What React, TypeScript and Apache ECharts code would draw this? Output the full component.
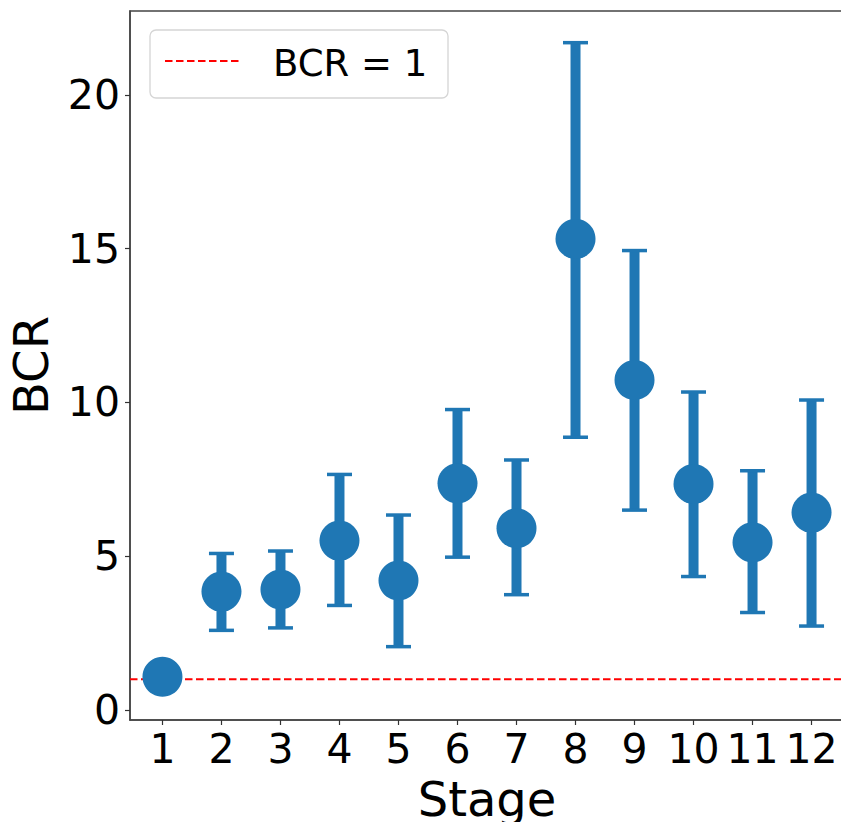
import React, { useEffect, useRef } from "react";
import * as echarts from "echarts";

const stages = [1, 2, 3, 4, 5, 6, 7, 8, 9, 10, 11, 12];
const bcr = [1.08, 3.85, 3.92, 5.51, 4.21, 7.37, 5.91, 15.32, 10.73, 7.35, 5.45, 6.42];
const lower = [1.08, 2.59, 2.67, 3.4, 2.06, 4.97, 3.75, 8.87, 6.5, 4.34, 3.17, 2.73];
const upper = [1.08, 5.09, 5.17, 7.66, 6.34, 9.77, 8.13, 21.7, 14.94, 10.34, 7.78, 10.08];
const yTicks = [0, 5, 10, 15, 20];
const refValue = 1;
const legendLabel = "BCR = 1";

const BLUE = "#1f77b4";
const FONT = "DejaVu Sans";

export default function App() {
  const ref = useRef<HTMLDivElement>(null);
  useEffect(() => {
    if (!ref.current) return;
    const chart = echarts.init(ref.current, null, { renderer: "svg" });
    const xMin = 0.45;
    const xMax = 12.55;
    chart.setOption({
      animation: false,
      grid: {
        left: 130,
        top: 11,
        right: -3,
        bottom: 102,
        containLabel: false,
        outerBoundsMode: "none",
        show: true,
        borderColor: "#444",
        borderWidth: 1.5,
        backgroundColor: "transparent",
      },
      xAxis: {
        type: "value",
        min: xMin,
        max: xMax,
        name: "Stage",
        nameLocation: "middle",
        nameGap: 55,
        nameTextStyle: { fontSize: 48, fontFamily: FONT, color: "#000" },
        splitLine: { show: false },
        axisLine: { show: true, onZero: false, lineStyle: { color: "#444", width: 1.5 } },
        axisTick: {
          show: true,
          length: 5,
          lineStyle: { color: "#333", width: 1.2 },
          customValues: stages,
        },
        axisLabel: {
          customValues: stages,
          fontSize: 41,
          fontFamily: FONT,
          color: "#000",
          margin: 8,
        },
      },
      yAxis: {
        type: "value",
        min: -0.325,
        max: 22.73,
        name: "BCR",
        nameLocation: "middle",
        nameGap: 75,
        nameTextStyle: { fontSize: 48, fontFamily: FONT, color: "#000" },
        splitLine: { show: false },
        axisLine: { show: true, onZero: false, lineStyle: { color: "#444", width: 1.5 } },
        axisTick: {
          show: true,
          length: 5,
          lineStyle: { color: "#333", width: 1.2 },
          customValues: yTicks,
        },
        axisLabel: {
          customValues: yTicks,
          fontSize: 41,
          fontFamily: FONT,
          color: "#000",
          margin: 10,
        },
      },
      series: [
        {
          type: "line",
          data: [
            [xMin, refValue],
            [xMax, refValue],
          ],
          symbol: "none",
          lineStyle: { color: "#ff0000", width: 2, type: [7.5, 3.5] },
          z: 1,
          silent: true,
        },
        {
          type: "custom",
          data: stages.map((s, i) => [s, lower[i], upper[i]]),
          encode: { x: 0, y: [1, 2] },
          z: 2,
          renderItem: (params: any, api: any) => {
            const x = api.value(0);
            const lo = api.value(1);
            const hi = api.value(2);
            if (lo === hi) return { type: "group", children: [] };
            const pLo = api.coord([x, lo]);
            const pHi = api.coord([x, hi]);
            const capHalf = 12.5;
            const style = { stroke: BLUE, lineWidth: 10, fill: null };
            const capStyle = { stroke: BLUE, lineWidth: 3.5, fill: null };
            return {
              type: "group",
              children: [
                {
                  type: "line",
                  shape: { x1: pLo[0], y1: pLo[1], x2: pHi[0], y2: pHi[1] },
                  style,
                },
                {
                  type: "line",
                  shape: { x1: pHi[0] - capHalf, y1: pHi[1], x2: pHi[0] + capHalf, y2: pHi[1] },
                  style: capStyle,
                },
                {
                  type: "line",
                  shape: { x1: pLo[0] - capHalf, y1: pLo[1], x2: pLo[0] + capHalf, y2: pLo[1] },
                  style: capStyle,
                },
              ],
            };
          },
        },
        {
          type: "scatter",
          data: stages.map((s, i) => [s, bcr[i]]),
          symbol: "circle",
          symbolSize: 40,
          itemStyle: { color: BLUE, opacity: 1 },
          z: 3,
        },
      ],
      graphic: [
        {
          type: "group",
          z: 100,
          children: [
            {
              type: "rect",
              shape: { x: 150, y: 30, width: 298, height: 68, r: 6 },
              style: { fill: "rgba(255,255,255,0.8)", stroke: "#d5d5d5", lineWidth: 1.3 },
            },
            {
              type: "line",
              shape: { x1: 165, y1: 61, x2: 242, y2: 61 },
              style: { stroke: "#ff0000", lineWidth: 2, lineDash: [7.5, 3.5] },
            },
            {
              type: "text",
              x: 273,
              y: 63,
              style: {
                text: legendLabel,
                fontSize: 37,
                fontFamily: FONT,
                fill: "#000",
                verticalAlign: "middle",
                align: "left",
              },
            },
          ],
        },
      ],
    });
    return () => chart.dispose();
  }, []);
  return (
    <div
      ref={ref}
      style={{ position: "fixed", left: 0, top: 0, width: 841, height: 822, background: "#fff" }}
    />
  );
}
